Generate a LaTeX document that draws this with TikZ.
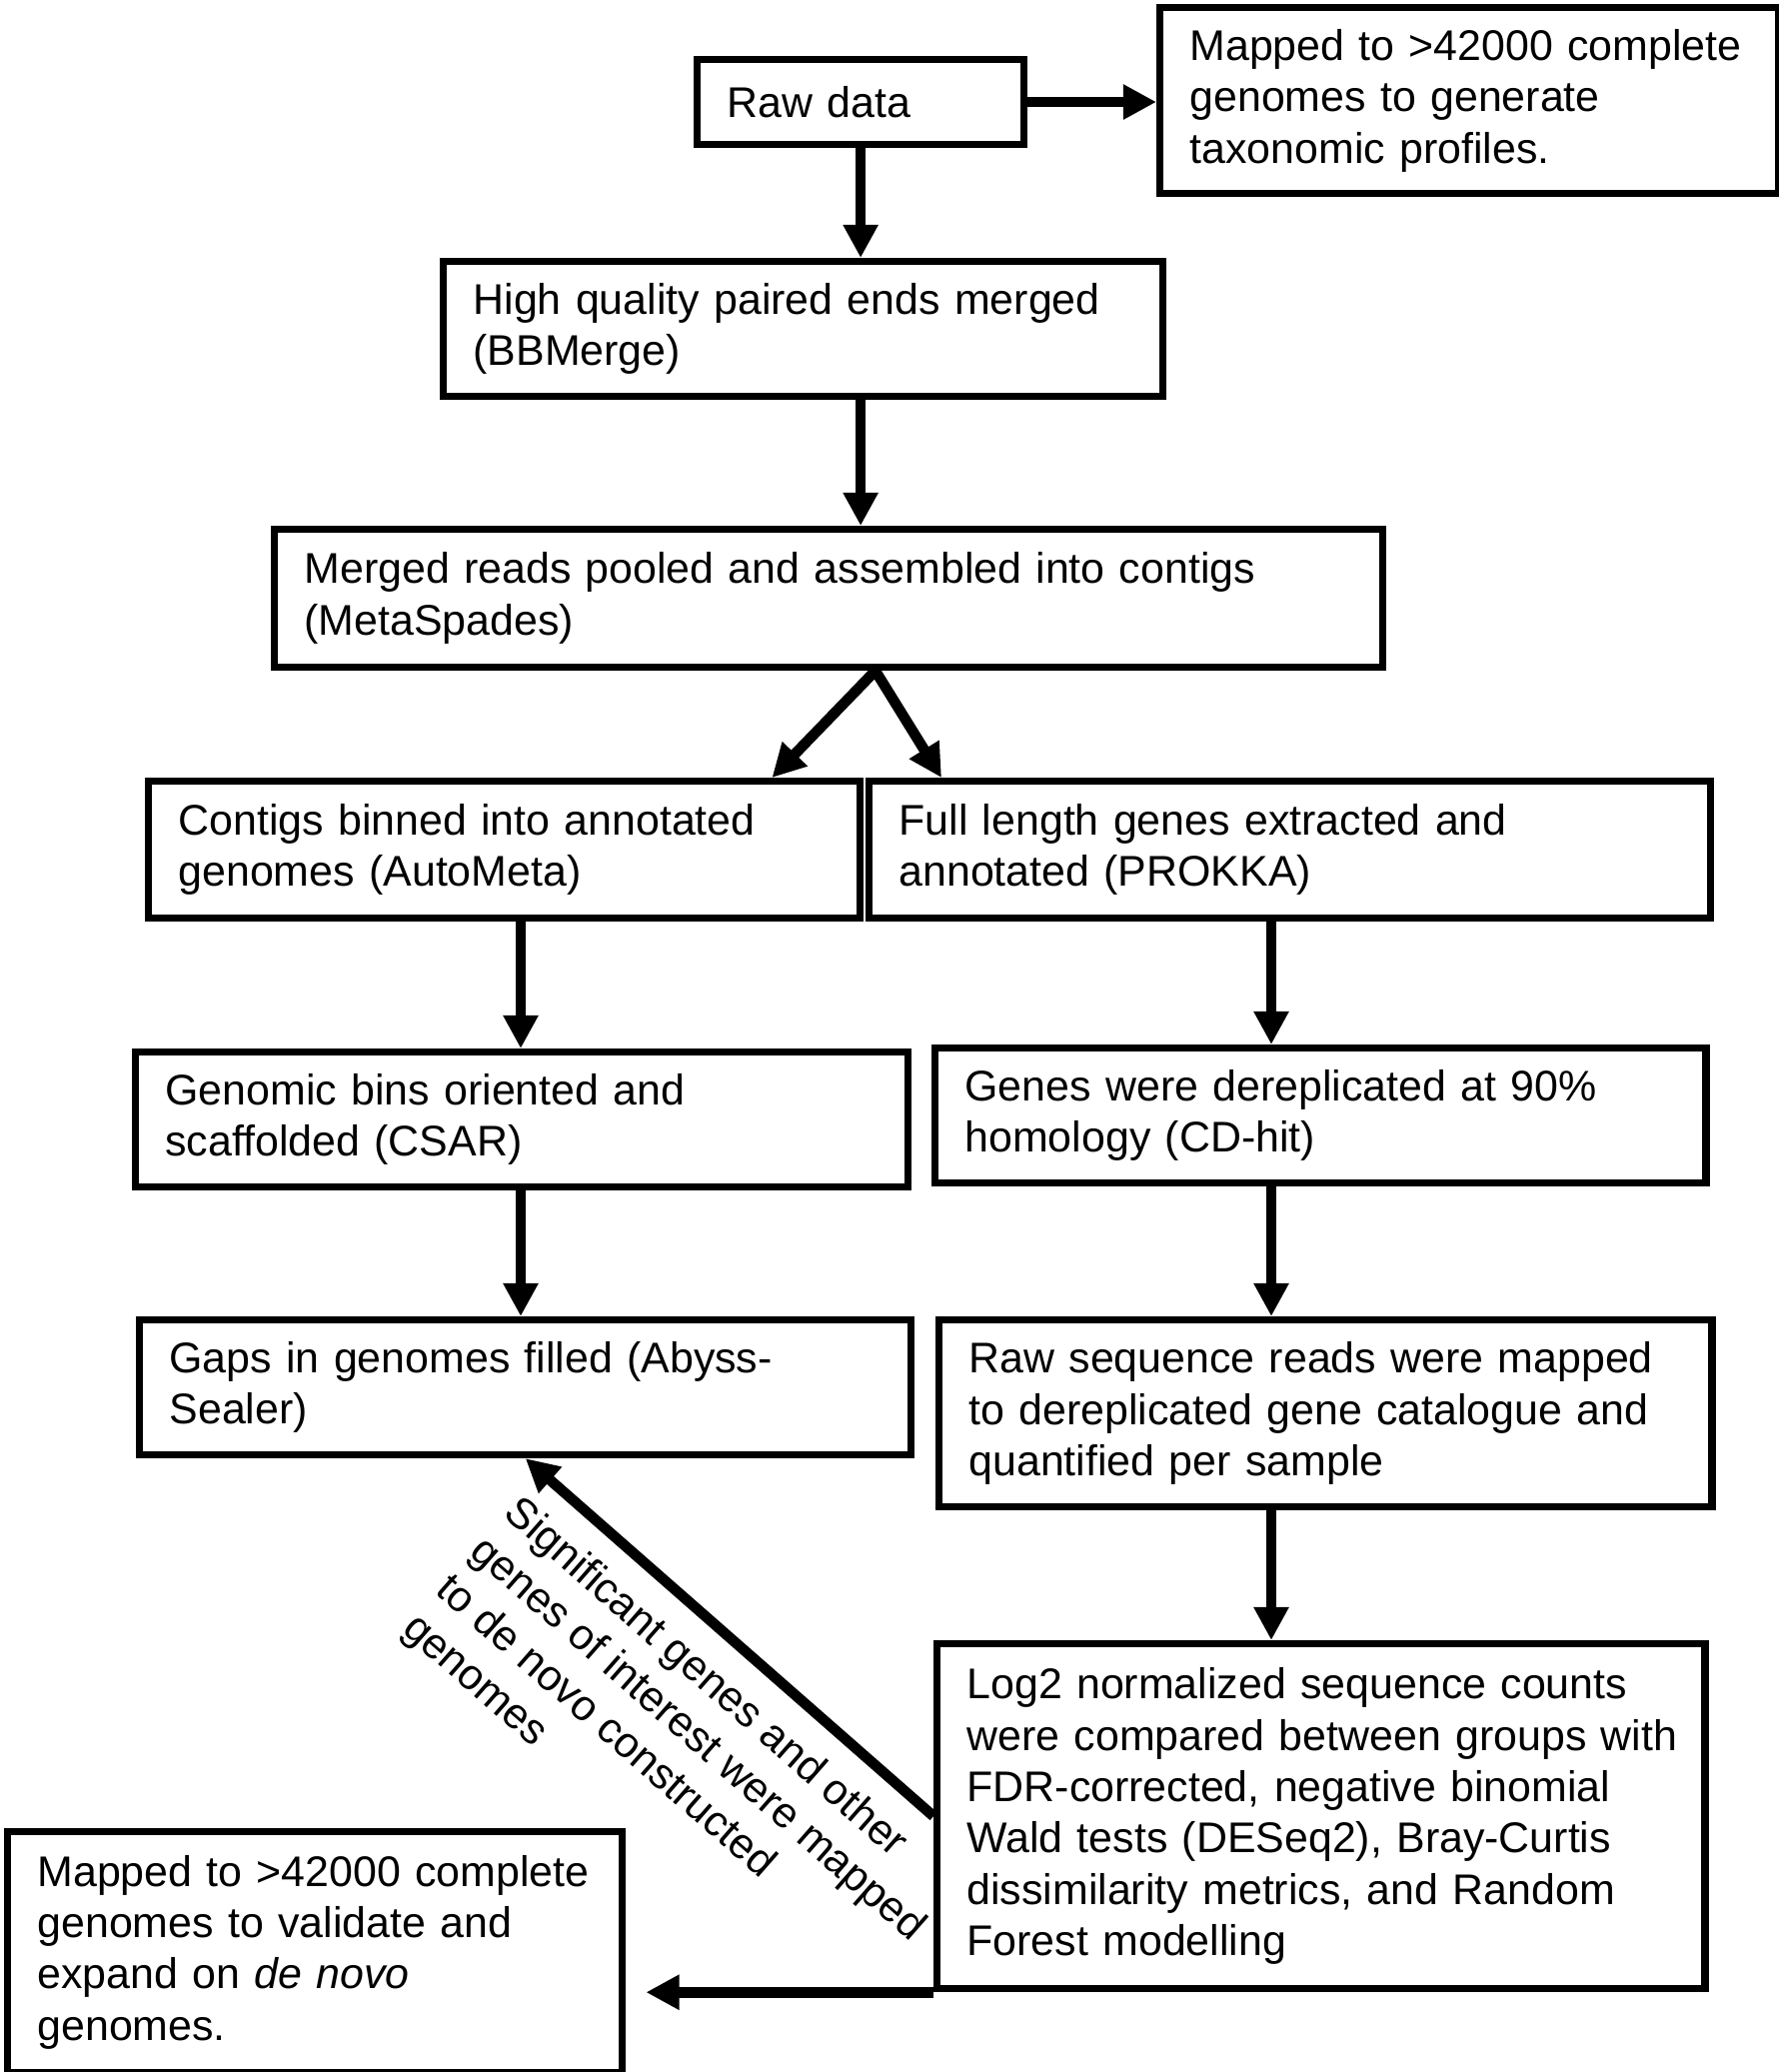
\documentclass[tikz,border=0pt]{standalone}
\usepackage{fontspec}
\setmainfont{Liberation Sans}
\usetikzlibrary{calc}
\usetikzlibrary{arrows.meta}

\begin{document}
\begin{tikzpicture}[x=.01cm, y=-.01cm,
 box/.style={draw, line width=2pt, anchor=north west, align=left, inner xsep=.3cm, inner ysep=0pt},
 arr/.style={line width=3pt, -{Triangle[length=9.4pt, width=9.4pt]}},
 font=\fontsize{12.2}{14.6}\selectfont]
\useasboundingbox (0,0) rectangle (1780,2073);
\coordinate (lc) at (521,0);
\coordinate (rc) at (1272,0);

\node[box, text width=2.67cm, minimum height=.85cm] (raw) at (694,56) {Raw data};
\node[box, text width=5.59cm, minimum height=1.86cm] (tr) at (1157,4) {Mapped to >42000 complete\\ genomes to generate\\ taxonomic profiles.};
\node[box, text width=6.60cm, minimum height=1.35cm] (high) at (440,258) {High quality paired ends merged\\ (BBMerge)};
\node[box, text width=10.48cm, minimum height=1.38cm] (merged) at (271,526) {Merged reads pooled and assembled into contigs\\ (MetaSpades)};
\node[box, text width=6.52cm, minimum height=1.37cm] (contigs) at (145,778) {Contigs binned into annotated\\ genomes (AutoMeta)};
\node[box, text width=7.81cm, minimum height=1.37cm] (full) at (866,778) {Full length genes extracted and\\ annotated (PROKKA)};
\node[box, text width=7.13cm, minimum height=1.35cm] (genomic) at (132,1049) {Genomic bins oriented and\\ scaffolded (CSAR)};
\node[box, text width=7.11cm, minimum height=1.35cm] (genes) at (932,1045) {Genes were dereplicated at 90\%\\ homology (CD-hit)};
\node[box, text width=7.12cm, minimum height=1.35cm] (gaps) at (136,1317) {Gaps in genomes filled (Abyss-\\ Sealer)};
\node[box, text width=7.13cm, minimum height=1.87cm] (rawseq) at (936,1317) {Raw sequence reads were mapped\\ to dereplicated gene catalogue and\\ quantified per sample};
\node[box, text width=7.08cm, minimum height=3.45cm] (log2) at (934,1641) {Log2 normalized sequence counts\\ \mbox{were compared between groups with}\\ FDR-corrected, negative binomial\\ Wald tests (DESeq2), Bray-Curtis\\ dissimilarity  metrics, and Random\\ Forest modelling};
\node[box, text width=5.55cm, minimum height=2.41cm] (mapped2) at (4,1829) {Mapped to >42000 complete\\ genomes to validate and\\ expand on \textit{de novo}\\ genomes.};

\draw[arr] (raw.east) -- (raw.east -| tr.west);
\draw[arr] (raw.south) -- (raw.south |- high.north);
\draw[arr] (raw.south |- high.south) -- (raw.south |- merged.north);
\coordinate (fork) at ($(merged.south)+(47,0)$);
\draw[arr] (fork) -- ($(contigs.north east)+(-92,0)$);
\draw[arr] (fork) -- ($(full.north west)+(76,0)$);
\foreach \a/\b in {contigs/genomic, genomic/gaps}
 \draw[arr] (lc |- \a.south) -- (lc |- \b.north);
\foreach \a/\b in {full/genes, genes/rawseq, rawseq/log2}
 \draw[arr] (rc |- \a.south) -- (rc |- \b.north);
\draw[arr] (log2.west) -- node[sloped, pos=.42, below=.22cm, align=left, inner sep=0pt] (sig) {Significant genes and other\\ genes of interest were mapped\\ to de novo constructed\\ genomes} (gaps.south);
\draw[arr, shorten >=5.7pt] (log2.south west) -- (log2.south west -| mapped2.east);
\end{tikzpicture}
\end{document}
